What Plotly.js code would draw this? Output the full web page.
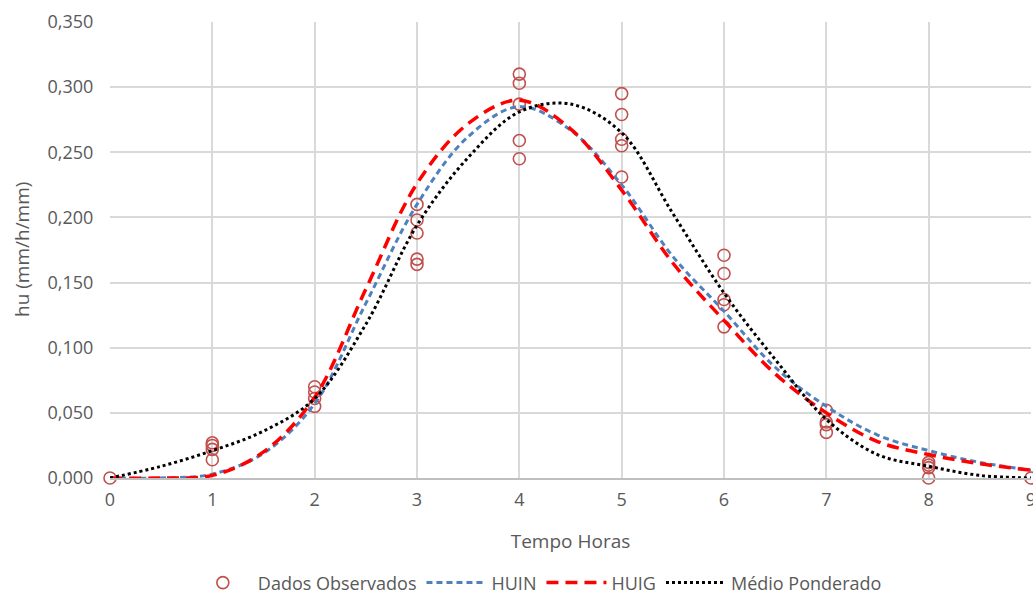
<!DOCTYPE html>
<html>
<head>
<meta charset="utf-8">
<script src="https://cdn.plot.ly/plotly-3.0.1.min.js"></script>
<style>html,body{margin:0;padding:0;background:#fff;}#chart{width:1033px;height:595px;}</style>
</head>
<body>
<div id="chart"></div>
<script>
// Observed data
const obsX = [0, 1,1,1,1, 2,2,2,2, 3,3,3,3,3, 4,4,4,4,4, 5,5,5,5,5, 6,6,6,6,6, 7,7,7,7, 8,8,8,8, 9];
const obsY = [0, 0.027,0.025,0.022,0.014, 0.070,0.066,0.061,0.055, 0.210,0.198,0.188,0.168,0.164, 0.310,0.303,0.287,0.259,0.245, 0.295,0.279,0.260,0.255,0.231, 0.171,0.157,0.137,0.133,0.116, 0.052,0.043,0.041,0.035, 0.012,0.010,0.008,0.000, 0];

// Curves
const curveX = [0,0.5,1,1.5,2,2.5,3,3.5,4,4.5,5,5.5,6,6.5,7,7.5,8,8.5,9];
const huin   = [0,0,0.003,0.019,0.057,0.134,0.210,0.262,0.285,0.267,0.225,0.170,0.128,0.085,0.055,0.033,0.021,0.012,0.006];
const huig   = [0,0,0.002,0.020,0.062,0.145,0.226,0.272,0.290,0.268,0.221,0.165,0.121,0.080,0.050,0.028,0.018,0.011,0.006];
const medio  = [0,0.009,0.021,0.036,0.061,0.118,0.194,0.246,0.281,0.287,0.265,0.203,0.142,0.091,0.045,0.018,0.009,0.002,0];

const yTicks = [0,0.05,0.1,0.15,0.2,0.25,0.3,0.35];
const xTicks = [0,1,2,3,4,5,6,7,8,9];
const xTitle = 'Tempo Horas';
const yTitle = 'hu (mm/h/mm)';

const FONT = '"Open Sans", "Noto Sans", sans-serif';

const traces = [
  {x: obsX, y: obsY, type:'scatter', mode:'markers', name:'Dados Observados',
   marker:{symbol:'circle-open', size:12, color:'#c0504d', line:{width:1.6, color:'#c0504d'}}, cliponaxis:false},
  {x: curveX, y: huin, type:'scatter', mode:'lines', name:'HUIN',
   line:{color:'#4f81bd', width:3, dash:'6px,4px', shape:'spline', smoothing:1}},
  {x: curveX, y: huig, type:'scatter', mode:'lines', name:'HUIG',
   line:{color:'#ff0000', width:3.5, dash:'12px,7px', shape:'spline', smoothing:1}},
  {x: curveX, y: medio, type:'scatter', mode:'lines', name:'Médio Ponderado',
   line:{color:'#000000', width:3, dash:'dot', shape:'spline', smoothing:1}}
];

const layout = {
  width:1033, height:595,
  margin:{l:110, r:2, t:22, b:117, autoexpand:false},
  paper_bgcolor:'#ffffff', plot_bgcolor:'#ffffff',
  separators:',.',
  font:{family:FONT, color:'#595959', size:18},
  showlegend:true,
  legend:{orientation:'h', x:0.464, xanchor:'center', y:-0.23, yanchor:'middle',
          font:{size:18, color:'#595959'}, itemwidth:60, traceorder:'normal'},
  xaxis:{range:[0,9], tickvals:xTicks, ticktext:xTicks.map(String),
         showgrid:true, gridcolor:'#d9d9d9', gridwidth:1.5,
         zeroline:false, showline:true, linecolor:'#bfbfbf', linewidth:1.5,
         ticks:'outside', ticklen:5, tickcolor:'rgba(0,0,0,0)',
         ticklabeloverflow:'allow',
         tickfont:{size:18, color:'#595959'},
         title:{text:xTitle, font:{size:19, color:'#595959'}, standoff:24}},
  yaxis:{range:[0,0.35], tickvals:yTicks, tickformat:'.3f',
         showgrid:true, gridcolor:'#d9d9d9', gridwidth:1.5,
         zeroline:false, showline:false,
         ticks:'outside', ticklen:12, tickcolor:'rgba(0,0,0,0)',
         tickfont:{size:18, color:'#595959'},
         title:{text:''}},
  annotations:[
    {text:yTitle, xref:'paper', yref:'paper', x:0, y:0.5, xanchor:'center', yanchor:'middle',
     xshift:-88, textangle:-90, showarrow:false, font:{size:19, color:'#595959'}}
  ]
};

Plotly.newPlot('chart', traces, layout, {displayModeBar:false, responsive:false});
</script>
</body>
</html>
